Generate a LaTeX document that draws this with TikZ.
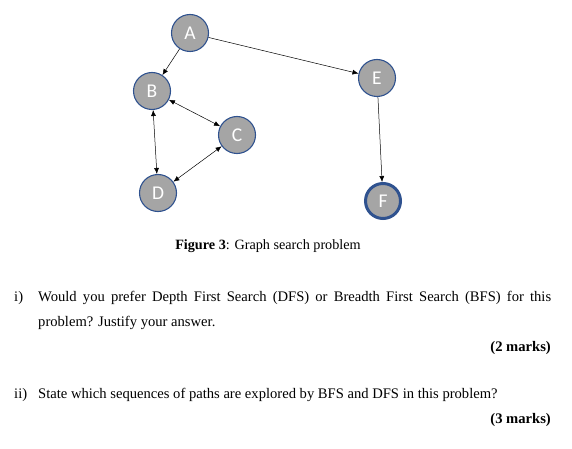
\documentclass[tikz,border=0pt]{standalone}
\usepackage{fontspec}
\setmainfont{Liberation Serif}
\newfontfamily\nodefont{Carlito}
\usetikzlibrary{arrows.meta,positioning}
\definecolor{stategray}{HTML}{A5A5A5}
\definecolor{stateblue}{HTML}{2F528F}

\begin{document}
\begin{tikzpicture}[x=1pt, y=-1pt,
  % search graph states
  state/.style={circle, draw=stateblue, fill=stategray, line width=1.1pt, minimum size=37pt, inner sep=0pt,
    font=\nodefont\fontsize{19.5}{19.5}\selectfont, text=white},
  goalstate/.style={state, line width=3pt, minimum size=35pt},
  onearrow/.style={-{Latex[length=6pt,width=5pt]}, line width=0.5pt},
  twoarrow/.style={{Latex[length=6pt,width=5pt]}-{Latex[length=6pt,width=5pt]}, line width=0.5pt},
  body/.style={font=\fontsize{14.6}{17}\selectfont, anchor=base west, inner sep=0pt},
]
\useasboundingbox (0,0) rectangle (572,449);

\node[state] (A) at (190,33)  {A};
\node[state] (B) at (152,91)  {B};
\node[state] (C) at (237,135) {C};
\node[state] (D) at (158,193) {D};
\node[state] (E) at (377,78)  {E};
\node[goalstate] (F) at (383,201) {F};

\draw[onearrow] (A) -- (B);
\draw[onearrow] (A) -- (E);
\draw[onearrow] (E) -- (F);
\draw[twoarrow] (B) -- (C);
\draw[twoarrow] (B) -- (D);
\draw[twoarrow] (C) -- (D);

\node[font=\fontsize{14.2}{16}\selectfont, anchor=base] (caption) at (268,249) {\textbf{Figure 3}: Graph search problem};

% questions
\node[body] (qone) at (14,301) {i)};
\node[body] (qonetext) at (38,301)
  {\makebox[513pt][s]{Would you prefer Depth First Search (DFS) or Breadth First Search (BFS) for this}};
\node[body] (qonemore) at (38,326) {problem? Justify your answer.};
\node[body, anchor=base east] (qonemarks) at (551,351) {\textbf{(2 marks)}};
\node[body] (qtwo) at (14,398) {ii)};
\node[body] (qtwotext) at (38,398) {State which sequences of paths are explored by BFS and DFS in this problem?};
\node[body, anchor=base east] (qtwomarks) at (551,423) {\textbf{(3 marks)}};
\end{tikzpicture}
\end{document}
